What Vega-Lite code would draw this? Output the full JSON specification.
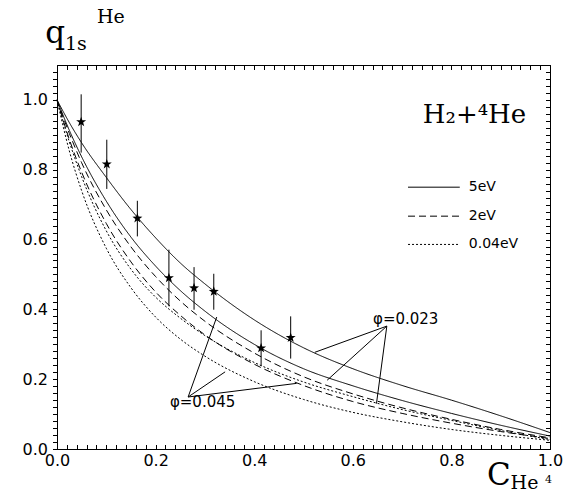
{
  "$schema": "https://vega.github.io/schema/vega-lite/v6.json",
  "width": 493,
  "height": 384,
  "autosize": {"type": "none"},
  "padding": {"left": 57, "top": 65, "right": 20, "bottom": 46},
  "background": "white",
  "config": {
    "view": {"stroke": "black", "strokeWidth": 1}
  },
  "datasets": {
    "curves": [
      {"c": 0, "q": 1.0, "E": "5eV", "phi": "0.023"},
      {"c": 0.025, "q": 0.935, "E": "5eV", "phi": "0.023"},
      {"c": 0.05, "q": 0.877, "E": "5eV", "phi": "0.023"},
      {"c": 0.1, "q": 0.778, "E": "5eV", "phi": "0.023"},
      {"c": 0.15, "q": 0.686, "E": "5eV", "phi": "0.023"},
      {"c": 0.2, "q": 0.605, "E": "5eV", "phi": "0.023"},
      {"c": 0.25, "q": 0.533, "E": "5eV", "phi": "0.023"},
      {"c": 0.3, "q": 0.473, "E": "5eV", "phi": "0.023"},
      {"c": 0.4, "q": 0.37, "E": "5eV", "phi": "0.023"},
      {"c": 0.5, "q": 0.29, "E": "5eV", "phi": "0.023"},
      {"c": 0.6, "q": 0.23, "E": "5eV", "phi": "0.023"},
      {"c": 0.7, "q": 0.182, "E": "5eV", "phi": "0.023"},
      {"c": 0.8, "q": 0.14, "E": "5eV", "phi": "0.023"},
      {"c": 0.9, "q": 0.095, "E": "5eV", "phi": "0.023"},
      {"c": 1.0, "q": 0.047, "E": "5eV", "phi": "0.023"},
      {"c": 0, "q": 1.0, "E": "5eV", "phi": "0.045"},
      {"c": 0.025, "q": 0.913, "E": "5eV", "phi": "0.045"},
      {"c": 0.05, "q": 0.837, "E": "5eV", "phi": "0.045"},
      {"c": 0.1, "q": 0.71, "E": "5eV", "phi": "0.045"},
      {"c": 0.15, "q": 0.607, "E": "5eV", "phi": "0.045"},
      {"c": 0.2, "q": 0.524, "E": "5eV", "phi": "0.045"},
      {"c": 0.25, "q": 0.454, "E": "5eV", "phi": "0.045"},
      {"c": 0.3, "q": 0.395, "E": "5eV", "phi": "0.045"},
      {"c": 0.4, "q": 0.3, "E": "5eV", "phi": "0.045"},
      {"c": 0.5, "q": 0.23, "E": "5eV", "phi": "0.045"},
      {"c": 0.6, "q": 0.181, "E": "5eV", "phi": "0.045"},
      {"c": 0.7, "q": 0.139, "E": "5eV", "phi": "0.045"},
      {"c": 0.8, "q": 0.102, "E": "5eV", "phi": "0.045"},
      {"c": 0.9, "q": 0.068, "E": "5eV", "phi": "0.045"},
      {"c": 1.0, "q": 0.037, "E": "5eV", "phi": "0.045"},
      {"c": 0, "q": 1.0, "E": "2eV", "phi": "0.023"},
      {"c": 0.025, "q": 0.904, "E": "2eV", "phi": "0.023"},
      {"c": 0.05, "q": 0.82, "E": "2eV", "phi": "0.023"},
      {"c": 0.1, "q": 0.685, "E": "2eV", "phi": "0.023"},
      {"c": 0.15, "q": 0.579, "E": "2eV", "phi": "0.023"},
      {"c": 0.2, "q": 0.494, "E": "2eV", "phi": "0.023"},
      {"c": 0.25, "q": 0.424, "E": "2eV", "phi": "0.023"},
      {"c": 0.3, "q": 0.366, "E": "2eV", "phi": "0.023"},
      {"c": 0.4, "q": 0.275, "E": "2eV", "phi": "0.023"},
      {"c": 0.5, "q": 0.207, "E": "2eV", "phi": "0.023"},
      {"c": 0.6, "q": 0.158, "E": "2eV", "phi": "0.023"},
      {"c": 0.7, "q": 0.118, "E": "2eV", "phi": "0.023"},
      {"c": 0.8, "q": 0.085, "E": "2eV", "phi": "0.023"},
      {"c": 0.9, "q": 0.056, "E": "2eV", "phi": "0.023"},
      {"c": 1.0, "q": 0.032, "E": "2eV", "phi": "0.023"},
      {"c": 0, "q": 1.0, "E": "2eV", "phi": "0.045"},
      {"c": 0.025, "q": 0.887, "E": "2eV", "phi": "0.045"},
      {"c": 0.05, "q": 0.793, "E": "2eV", "phi": "0.045"},
      {"c": 0.1, "q": 0.646, "E": "2eV", "phi": "0.045"},
      {"c": 0.15, "q": 0.536, "E": "2eV", "phi": "0.045"},
      {"c": 0.2, "q": 0.45, "E": "2eV", "phi": "0.045"},
      {"c": 0.25, "q": 0.383, "E": "2eV", "phi": "0.045"},
      {"c": 0.3, "q": 0.327, "E": "2eV", "phi": "0.045"},
      {"c": 0.4, "q": 0.243, "E": "2eV", "phi": "0.045"},
      {"c": 0.5, "q": 0.182, "E": "2eV", "phi": "0.045"},
      {"c": 0.6, "q": 0.136, "E": "2eV", "phi": "0.045"},
      {"c": 0.7, "q": 0.102, "E": "2eV", "phi": "0.045"},
      {"c": 0.8, "q": 0.074, "E": "2eV", "phi": "0.045"},
      {"c": 0.9, "q": 0.05, "E": "2eV", "phi": "0.045"},
      {"c": 1.0, "q": 0.03, "E": "2eV", "phi": "0.045"},
      {"c": 0, "q": 1.0, "E": "0.04eV", "phi": "0.023"},
      {"c": 0.025, "q": 0.88, "E": "0.04eV", "phi": "0.023"},
      {"c": 0.05, "q": 0.78, "E": "0.04eV", "phi": "0.023"},
      {"c": 0.1, "q": 0.625, "E": "0.04eV", "phi": "0.023"},
      {"c": 0.15, "q": 0.515, "E": "0.04eV", "phi": "0.023"},
      {"c": 0.2, "q": 0.435, "E": "0.04eV", "phi": "0.023"},
      {"c": 0.25, "q": 0.375, "E": "0.04eV", "phi": "0.023"},
      {"c": 0.3, "q": 0.325, "E": "0.04eV", "phi": "0.023"},
      {"c": 0.4, "q": 0.248, "E": "0.04eV", "phi": "0.023"},
      {"c": 0.5, "q": 0.192, "E": "0.04eV", "phi": "0.023"},
      {"c": 0.6, "q": 0.15, "E": "0.04eV", "phi": "0.023"},
      {"c": 0.7, "q": 0.113, "E": "0.04eV", "phi": "0.023"},
      {"c": 0.8, "q": 0.082, "E": "0.04eV", "phi": "0.023"},
      {"c": 0.9, "q": 0.053, "E": "0.04eV", "phi": "0.023"},
      {"c": 1.0, "q": 0.027, "E": "0.04eV", "phi": "0.023"},
      {"c": 0, "q": 1.0, "E": "0.04eV", "phi": "0.045"},
      {"c": 0.025, "q": 0.854, "E": "0.04eV", "phi": "0.045"},
      {"c": 0.05, "q": 0.74, "E": "0.04eV", "phi": "0.045"},
      {"c": 0.1, "q": 0.575, "E": "0.04eV", "phi": "0.045"},
      {"c": 0.15, "q": 0.462, "E": "0.04eV", "phi": "0.045"},
      {"c": 0.2, "q": 0.378, "E": "0.04eV", "phi": "0.045"},
      {"c": 0.25, "q": 0.315, "E": "0.04eV", "phi": "0.045"},
      {"c": 0.3, "q": 0.266, "E": "0.04eV", "phi": "0.045"},
      {"c": 0.4, "q": 0.193, "E": "0.04eV", "phi": "0.045"},
      {"c": 0.5, "q": 0.142, "E": "0.04eV", "phi": "0.045"},
      {"c": 0.6, "q": 0.105, "E": "0.04eV", "phi": "0.045"},
      {"c": 0.7, "q": 0.078, "E": "0.04eV", "phi": "0.045"},
      {"c": 0.8, "q": 0.056, "E": "0.04eV", "phi": "0.045"},
      {"c": 0.9, "q": 0.039, "E": "0.04eV", "phi": "0.045"},
      {"c": 1.0, "q": 0.025, "E": "0.04eV", "phi": "0.045"}
    ],
    "points": [
      {"c": 0.049, "q": 0.937, "lo": 0.849, "hi": 1.016},
      {"c": 0.101, "q": 0.816, "lo": 0.745, "hi": 0.886},
      {"c": 0.163, "q": 0.661, "lo": 0.609, "hi": 0.711},
      {"c": 0.227, "q": 0.49, "lo": 0.409, "hi": 0.571},
      {"c": 0.278, "q": 0.461, "lo": 0.399, "hi": 0.521},
      {"c": 0.318, "q": 0.451, "lo": 0.399, "hi": 0.502},
      {"c": 0.414, "q": 0.289, "lo": 0.238, "hi": 0.34},
      {"c": 0.474, "q": 0.319, "lo": 0.259, "hi": 0.38}
    ],
    "pointers": [
      {"x1": 0.669, "y1": 0.352, "x2": 0.523, "y2": 0.277},
      {"x1": 0.669, "y1": 0.352, "x2": 0.548, "y2": 0.197},
      {"x1": 0.669, "y1": 0.352, "x2": 0.648, "y2": 0.13},
      {"x1": 0.266, "y1": 0.149, "x2": 0.324, "y2": 0.378},
      {"x1": 0.266, "y1": 0.149, "x2": 0.341, "y2": 0.221},
      {"x1": 0.266, "y1": 0.149, "x2": 0.486, "y2": 0.188}
    ],
    "legend": [
      {"E": "5eV", "x1": 0.712, "x2": 0.817, "y": 0.75},
      {"E": "2eV", "x1": 0.712, "x2": 0.817, "y": 0.667},
      {"E": "0.04eV", "x1": 0.712, "x2": 0.817, "y": 0.586}
    ]
  },
  "resolve": {"axis": {"x": "independent", "y": "independent"}},
  "layer": [
    {
      "data": {"name": "curves"},
      "mark": {"type": "line", "color": "black", "strokeWidth": 1, "interpolate": "monotone"},
      "encoding": {
        "x": {"field": "c", "type": "quantitative", "scale": {"domain": [0, 1], "nice": false, "zero": false},
              "axis": {"orient": "bottom", "title": null, "values": [0,0.02,0.04,0.06,0.08,0.1,0.12,0.14,0.16,0.18,0.2,0.22,0.24,0.26,0.28,0.3,0.32,0.34,0.36,0.38,0.4,0.42,0.44,0.46,0.48,0.5,0.52,0.54,0.56,0.58,0.6,0.62,0.64,0.66,0.68,0.7,0.72,0.74,0.76,0.78,0.8,0.82,0.84,0.86,0.88,0.9,0.92,0.94,0.96,0.98,1],
                       "labelExpr": "abs(datum.value * 5 - round(datum.value * 5)) < 0.001 ? format(datum.value, '.1f') : ''",
                       "labelOverlap": false, "tickSize": -4.5, "tickColor": "black", "tickWidth": 1, "domainColor": "black", "grid": false, "labelPadding": 8, "labelFlush": false, "labelFont": "DejaVu Sans", "labelFontSize": 16, "labelColor": "black"}},
        "y": {"field": "q", "type": "quantitative", "scale": {"domain": [0, 1.1], "nice": false, "zero": false},
              "axis": {"orient": "left", "title": null, "values": [0,0.02,0.04,0.06,0.08,0.1,0.12,0.14,0.16,0.18,0.2,0.22,0.24,0.26,0.28,0.3,0.32,0.34,0.36,0.38,0.4,0.42,0.44,0.46,0.48,0.5,0.52,0.54,0.56,0.58,0.6,0.62,0.64,0.66,0.68,0.7,0.72,0.74,0.76,0.78,0.8,0.82,0.84,0.86,0.88,0.9,0.92,0.94,0.96,0.98,1,1.02,1.04,1.06,1.08],
                       "labelExpr": "abs(datum.value * 5 - round(datum.value * 5)) < 0.001 ? format(datum.value, '.1f') : ''",
                       "labelOverlap": false, "tickSize": 4.5, "tickColor": "black", "tickWidth": 1, "domainColor": "black", "grid": false, "labelPadding": 5, "labelFlush": false, "labelFont": "DejaVu Sans", "labelFontSize": 16, "labelColor": "black"}},
        "detail": [{"field": "E"}, {"field": "phi"}],
        "strokeDash": {"field": "E", "type": "nominal", "scale": {"domain": ["5eV", "2eV", "0.04eV"], "range": [[1, 0], [7, 4], [2, 2]]}, "legend": null}
      }
    },
    {
      "data": {"name": "points"},
      "mark": {"type": "rule", "color": "black", "strokeWidth": 1},
      "encoding": {
        "x": {"field": "c", "type": "quantitative", "scale": {"domain": [0, 1], "nice": false, "zero": false},
              "axis": {"orient": "top", "title": null, "values": [0,0.02,0.04,0.06,0.08,0.1,0.12,0.14,0.16,0.18,0.2,0.22,0.24,0.26,0.28,0.3,0.32,0.34,0.36,0.38,0.4,0.42,0.44,0.46,0.48,0.5,0.52,0.54,0.56,0.58,0.6,0.62,0.64,0.66,0.68,0.7,0.72,0.74,0.76,0.78,0.8,0.82,0.84,0.86,0.88,0.9,0.92,0.94,0.96,0.98,1], "labels": false, "tickSize": -4.5, "tickColor": "black", "tickWidth": 1, "domainColor": "black", "grid": false}},
        "y": {"field": "lo", "type": "quantitative", "scale": {"domain": [0, 1.1], "nice": false, "zero": false},
              "axis": {"orient": "right", "title": null, "values": [0,0.02,0.04,0.06,0.08,0.1,0.12,0.14,0.16,0.18,0.2,0.22,0.24,0.26,0.28,0.3,0.32,0.34,0.36,0.38,0.4,0.42,0.44,0.46,0.48,0.5,0.52,0.54,0.56,0.58,0.6,0.62,0.64,0.66,0.68,0.7,0.72,0.74,0.76,0.78,0.8,0.82,0.84,0.86,0.88,0.9,0.92,0.94,0.96,0.98,1,1.02,1.04,1.06,1.08], "labels": false, "tickSize": -4.5, "tickColor": "black", "tickWidth": 1, "domainColor": "black", "grid": false}},
        "y2": {"field": "hi"}
      }
    },
    {
      "data": {"name": "points"},
      "mark": {"type": "point", "filled": true, "color": "black", "opacity": 1, "size": 110,
               "shape": "M0,-1L0.235,-0.324L0.951,-0.309L0.38,0.124L0.588,0.809L0,0.4L-0.588,0.809L-0.38,0.124L-0.951,-0.309L-0.235,-0.324Z"},
      "encoding": {
        "x": {"field": "c", "type": "quantitative", "scale": {"domain": [0, 1], "nice": false, "zero": false}, "axis": null},
        "y": {"field": "q", "type": "quantitative", "scale": {"domain": [0, 1.1], "nice": false, "zero": false}, "axis": null}
      }
    },
    {
      "data": {"name": "pointers"},
      "mark": {"type": "rule", "color": "black", "strokeWidth": 1},
      "encoding": {
        "x": {"field": "x1", "type": "quantitative", "scale": {"domain": [0, 1], "nice": false, "zero": false}, "axis": null},
        "y": {"field": "y1", "type": "quantitative", "scale": {"domain": [0, 1.1], "nice": false, "zero": false}, "axis": null},
        "x2": {"field": "x2"},
        "y2": {"field": "y2"}
      }
    },
    {
      "data": {"name": "legend"},
      "mark": {"type": "rule", "color": "black", "strokeWidth": 1},
      "encoding": {
        "x": {"field": "x1", "type": "quantitative", "scale": {"domain": [0, 1], "nice": false, "zero": false}, "axis": null},
        "x2": {"field": "x2"},
        "y": {"field": "y", "type": "quantitative", "scale": {"domain": [0, 1.1], "nice": false, "zero": false}, "axis": null},
        "strokeDash": {"field": "E", "type": "nominal", "legend": null}
      }
    },
    {
      "data": {"name": "legend"},
      "mark": {"type": "text", "font": "DejaVu Sans", "fontSize": 14, "align": "left", "baseline": "middle", "dx": 9, "color": "black"},
      "encoding": {
        "x": {"field": "x2", "type": "quantitative", "scale": {"domain": [0, 1], "nice": false, "zero": false}, "axis": null},
        "y": {"field": "y", "type": "quantitative", "scale": {"domain": [0, 1.1], "nice": false, "zero": false}, "axis": null},
        "text": {"field": "E"}
      }
    },
    {
      "data": {"values": [
        {"label": "φ=0.023", "x": 0.641, "y": 0.371},
        {"label": "φ=0.045", "x": 0.229, "y": 0.134}
      ]},
      "mark": {"type": "text", "font": "DejaVu Sans", "fontSize": 15, "align": "left", "baseline": "middle", "color": "black"},
      "encoding": {
        "x": {"field": "x", "type": "quantitative", "scale": {"domain": [0, 1], "nice": false, "zero": false}, "axis": null},
        "y": {"field": "y", "type": "quantitative", "scale": {"domain": [0, 1.1], "nice": false, "zero": false}, "axis": null},
        "text": {"field": "label"}
      }
    },
    {
      "data": {"values": [{"label": "H₂+⁴He", "x": 0.742, "y": 0.935}]},
      "mark": {"type": "text", "font": "DejaVu Serif", "fontSize": 26, "align": "left", "baseline": "alphabetic", "color": "black"},
      "encoding": {
        "x": {"field": "x", "type": "quantitative", "scale": {"domain": [0, 1], "nice": false, "zero": false}, "axis": null},
        "y": {"field": "y", "type": "quantitative", "scale": {"domain": [0, 1.1], "nice": false, "zero": false}, "axis": null},
        "text": {"field": "label"}
      }
    },
    {
      "data": {"values": [
        {"label": "q", "x": -0.024, "y": 1.163},
        {"label": "C", "x": 0.872, "y": -0.104}
      ]},
      "mark": {"type": "text", "font": "DejaVu Serif", "fontSize": 31, "align": "left", "baseline": "alphabetic", "color": "black"},
      "encoding": {
        "x": {"field": "x", "type": "quantitative", "scale": {"domain": [0, 1], "nice": false, "zero": false}, "axis": null},
        "y": {"field": "y", "type": "quantitative", "scale": {"domain": [0, 1.1], "nice": false, "zero": false}, "axis": null},
        "text": {"field": "label"}
      }
    },
    {
      "data": {"values": [
        {"label": "1s", "x": 0.016, "y": 1.143},
        {"label": "He", "x": 0.081, "y": 1.22},
        {"label": "He", "x": 0.92, "y": -0.114}
      ]},
      "mark": {"type": "text", "font": "DejaVu Serif", "fontSize": 19, "align": "left", "baseline": "alphabetic", "color": "black"},
      "encoding": {
        "x": {"field": "x", "type": "quantitative", "scale": {"domain": [0, 1], "nice": false, "zero": false}, "axis": null},
        "y": {"field": "y", "type": "quantitative", "scale": {"domain": [0, 1.1], "nice": false, "zero": false}, "axis": null},
        "text": {"field": "label"}
      }
    },
    {
      "data": {"values": [{"label": "4", "x": 0.99, "y": -0.097}]},
      "mark": {"type": "text", "font": "DejaVu Serif", "fontSize": 11, "align": "left", "baseline": "alphabetic", "color": "black"},
      "encoding": {
        "x": {"field": "x", "type": "quantitative", "scale": {"domain": [0, 1], "nice": false, "zero": false}, "axis": null},
        "y": {"field": "y", "type": "quantitative", "scale": {"domain": [0, 1.1], "nice": false, "zero": false}, "axis": null},
        "text": {"field": "label"}
      }
    }
  ]
}
